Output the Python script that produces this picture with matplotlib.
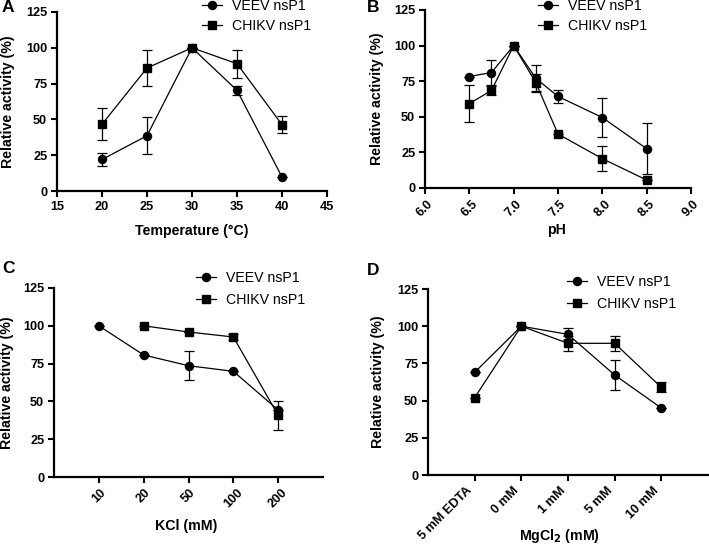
import matplotlib
matplotlib.use("Agg")
import matplotlib.pyplot as plt
import numpy as np

plt.rcParams['font.family'] = ['Liberation Sans', 'DejaVu Sans']

# Panel A: temperature
temp = [20, 25, 30, 35, 40]
temp_veev = [22, 38.6, 100, 70.3, 9.8]
temp_veev_err = [4.3, 13, 0, 3, 0]
temp_chikv = [46.6, 85.9, 100, 88.9, 46.3]
temp_chikv_err = [11.3, 12.5, 0, 9.7, 5.8]

# Panel B: pH
ph = [6.5, 6.75, 7.0, 7.25, 7.5, 8.0, 8.5]
ph_veev = [78.3, 81.1, 100, 77.0, 64.3, 49.5, 27.6]
ph_veev_err = [0, 8.5, 0, 9.5, 4.6, 13.7, 18]
ph_chikv = [59.3, 68.5, 100, 74.0, 37.9, 20.6, 5.6]
ph_chikv_err = [13, 3, 0, 6, 0, 8.7, 0]

# Panel C: KCl
kcl_labels = ['10', '20', '50', '100', '200']
kcl_veev = [100, 80.7, 73.6, 69.9, 44.3]
kcl_veev_err = [0, 0, 9.5, 0, 0]
kcl_chikv = [np.nan, 100, 95.9, 92.6, 40.8]
kcl_chikv_err = [0, 0, 0, 2, 9.7]

# Panel D: MgCl2
mg_labels = ['5 mM EDTA', '0 mM', '1 mM', '5 mM', '10 mM']
mg_veev = [69, 100, 94.5, 67.2, 45]
mg_veev_err = [0, 0, 4, 10.4, 0]
mg_chikv = [52, 100, 88.5, 88.5, 58.9]
mg_chikv_err = [0, 0, 5, 5.2, 3.4]

fig = plt.figure(figsize=(7.09, 5.46), dpi=100)

W, H = 709, 546
def ax_px(l, r, t, b):
    return fig.add_axes([l / W, 1 - b / H, (r - l) / W, (b - t) / H])

axA = ax_px(57, 327, 12, 191)
axB = ax_px(425, 691, 10, 188)
axC = ax_px(54, 323, 288, 477)
axD = ax_px(428, 708, 289, 475)

tick_fs = 9.2
label_fs = 10.2

def style(ax, xlab, xlab_y, xlab_x=0.5, ylab_x=-0.18):
    for s in ['top', 'right']:
        ax.spines[s].set_visible(False)
    for s in ['left', 'bottom']:
        ax.spines[s].set_linewidth(1.6)
    ax.tick_params(axis='both', direction='out', width=1.5, length=4.5,
                   labelsize=tick_fs, pad=2.5)
    for lab in ax.get_xticklabels() + ax.get_yticklabels():
        lab.set_fontweight('bold')
    ax.set_ylim(0, 125)
    ax.set_yticks([0, 25, 50, 75, 100, 125])
    ax.set_ylabel('Relative activity (%)', fontsize=label_fs, fontweight='bold',
                  va='center')
    ax.yaxis.set_label_coords(ylab_x, 0.5)
    ax.set_xlabel(xlab, fontsize=label_fs, fontweight='bold', va='center')
    ax.xaxis.set_label_coords(xlab_x, xlab_y)

def plot_series(ax, x, y, yerr, marker, ms, label):
    ax.errorbar(x, y, yerr=yerr, fmt='none', ecolor='black', elinewidth=0.9,
                capsize=3.5, capthick=0.9, clip_on=False, zorder=2)
    ax.plot(x, y, color='black', lw=0.9, marker=marker, ms=ms, mfc='black',
            mec='black', label=label, clip_on=False, zorder=3)

def legend(ax, x, y, spacing=0.4):
    ax.legend(loc='upper left', bbox_to_anchor=(x / W, 1 - y / H),
              bbox_transform=fig.transFigure, frameon=False, fontsize=10.2,
              handlelength=1.4, handletextpad=0.75, labelspacing=spacing,
              borderpad=0, borderaxespad=0)

# A
plot_series(axA, temp, temp_veev, temp_veev_err, 'o', 5.8, 'VEEV nsP1')
plot_series(axA, temp, temp_chikv, temp_chikv_err, 's', 6.2, 'CHIKV nsP1')
axA.set_xlim(15, 45)
axA.set_xticks([15, 20, 25, 30, 35, 40, 45])
style(axA, 'Temperature (°C)', -0.2235, ylab_x=-0.181)
legend(axA, 202, -1)

# B
plot_series(axB, ph, ph_veev, ph_veev_err, 'o', 5.8, 'VEEV nsP1')
plot_series(axB, ph, ph_chikv, ph_chikv_err, 's', 6.2, 'CHIKV nsP1')
axB.set_xlim(6.0, 9.0)
axB.set_xticks([6.0, 6.5, 7.0, 7.5, 8.0, 8.5, 9.0])
axB.set_xticklabels(['6.0', '6.5', '7.0', '7.5', '8.0', '8.5', '9.0'],
                    rotation=45, ha='center')
style(axB, 'pH', -0.236, xlab_x=0.495, ylab_x=-0.18)
legend(axB, 538, -1)

# C
xc = np.arange(len(kcl_labels))
plot_series(axC, xc, kcl_veev, kcl_veev_err, 'o', 5.8, 'VEEV nsP1')
plot_series(axC, xc, kcl_chikv, kcl_chikv_err, 's', 6.2, 'CHIKV nsP1')
axC.set_xlim(-1, 5)
axC.set_xticks(xc)
axC.set_xticklabels(kcl_labels, rotation=45, ha='center')
style(axC, 'KCl (mM)', -0.259, xlab_x=0.49, ylab_x=-0.175)
legend(axC, 196, 271, spacing=0.55)

# D
xd = np.arange(len(mg_labels))
plot_series(axD, xd, mg_veev, mg_veev_err, 'o', 5.8, 'VEEV nsP1')
plot_series(axD, xd, mg_chikv, mg_chikv_err, 's', 6.2, 'CHIKV nsP1')
axD.set_xlim(-1, 5)
axD.set_xticks(xd)
axD.set_xticklabels(mg_labels, rotation=45, ha='right')
style(axD, 'MgCl$_\\mathbf{2}$ (mM)', -0.328, xlab_x=0.471, ylab_x=-0.179)
legend(axD, 567, 275, spacing=0.55)

# Panel letters
for letter, x, y in [('A', 2, 0), ('B', 367, 0), ('C', 2, 261), ('D', 367, 263)]:
    fig.text(x / W, 1 - y / H, letter, fontsize=12.5, fontweight='bold',
             ha='left', va='top')

fig.savefig('out.png', dpi=100)
